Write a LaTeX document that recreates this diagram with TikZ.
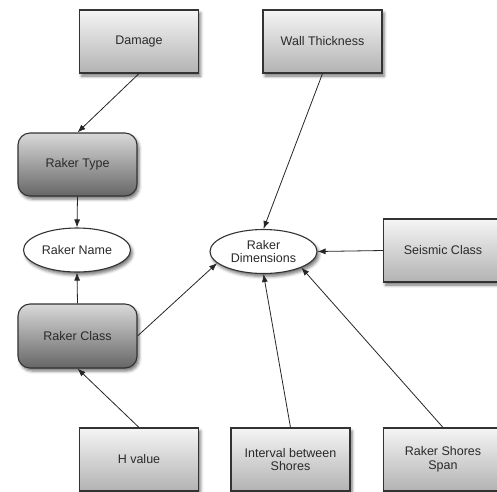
\documentclass[tikz,border=0pt]{standalone}
\usepackage{fontspec}
\setmainfont{Liberation Sans}
\usetikzlibrary{shapes.geometric,shadows.blur,arrows.meta}
\definecolor{edge}{HTML}{333333}
\definecolor{txt}{HTML}{2A2A2A}
\tikzset{
  base/.style={draw=edge,line width=1.1pt,text=txt,font=\fontsize{12.5}{14.5}\selectfont,align=center,inner sep=2pt,
    blur shadow={shadow xshift=2pt,shadow yshift=-3pt,shadow blur radius=3pt,shadow opacity=55}},
  sqbox/.style={base,rectangle,minimum width=119pt,minimum height=63pt,top color=white!96!black,bottom color=white!70!black},
  rdbox/.style={base,rectangle,rounded corners=12pt,minimum width=119pt,minimum height=63pt,top color=white!85!black,bottom color=white!40!black},
  ell/.style={base,ellipse,fill=white,minimum width=107pt,minimum height=44pt,inner sep=0pt},
  conn/.style={draw=black!85,line width=0.8pt,-{Latex[length=8pt,width=6pt]}}
}
\begin{document}
\begin{tikzpicture}[x=1pt,y=-1pt]
\useasboundingbox (0,0) rectangle (497,491);
\clip (0,0) rectangle (497,491);
\node[sqbox] (damage) at (139,41.5) {Damage};
\node[sqbox] (walls) at (322.5,41.5) {Wall Thickness};
\node[rdbox] (type) at (77.5,164.5) {Raker Type};
\node[ell] (rname) at (77,250) {Raker Name};
\node[ell] (rdim) at (263.5,251.5) {Raker\\[-1pt]Dimensions};
\node[sqbox] (seismic) at (443,250.5) {Seismic Class};
\node[rdbox,minimum height=64pt] (rclass) at (77.5,336) {Raker Class};
\node[sqbox] (hval) at (139,459.5) {H value};
\node[sqbox] (interval) at (290.5,459.5) {Interval between\\[-1pt]Shores};
\node[sqbox] (span) at (443,459.5) {Raker Shores\\[-1pt]Span};
\draw[conn] (damage.south) -- (type.north);
\draw[conn] (walls.south) -- (rdim.north);
\draw[conn] (seismic.west) -- (rdim.east);
\draw[conn] (type.south) -- (rname.north);
\draw[conn] (rclass.north) -- (rname.south);
\draw[conn] (rclass.east) -- (rdim.194);
\draw[conn] (hval.north) -- (rclass.south);
\draw[conn] (interval.north) -- (rdim.south);
\draw[conn] (span.north) -- (rdim.337);
\end{tikzpicture}
\end{document}
